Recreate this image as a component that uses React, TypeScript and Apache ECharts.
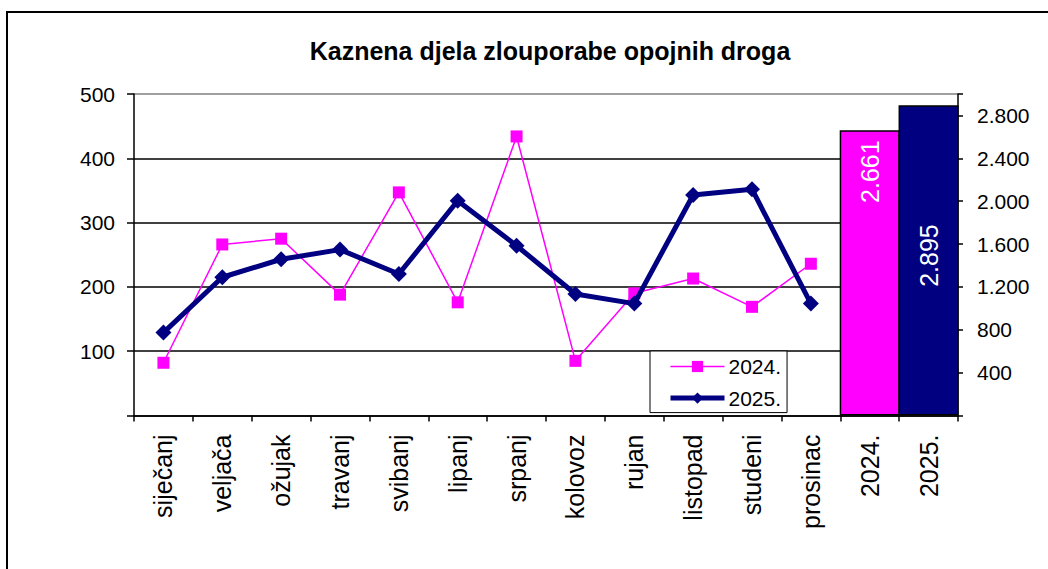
import React, { useEffect, useRef } from "react";
import * as echarts from "echarts";

const categories = ["siječanj", "veljača", "ožujak", "travanj", "svibanj", "lipanj", "srpanj", "kolovoz", "rujan", "listopad", "studeni", "prosinac", "2024.", "2025."];
const values2024 = [82, 266, 275, 188, 347, 176, 434, 85, 190, 213, 169, 236];
const values2025 = [129, 215, 243, 258, 220, 334, 264, 189, 174, 343, 352, 174];
const totals = [2661, 2895];
const leftTicks = { min: 0, max: 500, interval: 100 };
const rightTicks = { min: 0, max: 3000, interval: 400 };

const FONT = "'Liberation Sans', Arial, sans-serif";
const MAGENTA = "#FF00FF";
const NAVY = "#000080";

const fmt = (v: number) => String(v).replace(/\B(?=(\d{3})+(?!\d))/g, ".");

export default function App() {
  const ref = useRef<HTMLDivElement>(null);
  useEffect(() => {
    if (!ref.current) return;
    const chart = echarts.init(ref.current, null, { renderer: "svg" });
    const pad = (arr: number[]) => [...arr, null, null];
    const barData: any[] = categories.map(() => null);
    barData[12] = {
      value: totals[0],
      itemStyle: { color: MAGENTA },
      label: { distance: 17, offset: [7, 0] },
    };
    barData[13] = {
      value: totals[1],
      itemStyle: { color: NAVY },
      label: { distance: 122, offset: [3, 0] },
    };
    chart.setOption({
      animation: false,
      backgroundColor: "#ffffff",
      textStyle: { fontFamily: FONT },
      graphic: [
        {
          type: "rect",
          shape: { x: 7, y: 12, width: 1200, height: 700 },
          style: { fill: "none", stroke: "#000", lineWidth: 2 },
          silent: true,
        },
        {
          type: "text",
          x: 550,
          y: 51,
          style: {
            text: "Kaznena djela zlouporabe opojnih droga",
            font: `bold 25px ${FONT}`,
            fill: "#000",
            align: "center",
            verticalAlign: "middle",
          },
        },
      ],
      grid: { left: 134, right: 90, top: 94, bottom: 153.5, containLabel: false },
      legend: {
        data: [
          { name: "2024.", lineStyle: { width: 1.5, color: MAGENTA }, itemStyle: { color: MAGENTA } },
          { name: "2025.", lineStyle: { width: 5, color: NAVY }, itemStyle: { color: NAVY } },
        ],
        orient: "vertical",
        left: 650,
        top: 351,
        backgroundColor: "#fff",
        borderColor: "#000",
        borderWidth: 1,
        padding: [5, 6, 4, 18],
        itemWidth: 54,
        itemHeight: 14,
        itemGap: 10.6,
        textStyle: { fontSize: 21, fontFamily: FONT, color: "#000", lineHeight: 21, padding: [0, 0, 0, -1] },
      },
      xAxis: {
        type: "category",
        data: categories,
        boundaryGap: true,
        axisLine: { lineStyle: { color: "#000", width: 1.5 } },
        axisTick: { show: true, length: 6, lineStyle: { color: "#000", width: 1.5 } },
        axisLabel: { rotate: 90, fontSize: 25, color: "#000", margin: 19, fontFamily: FONT, interval: 0 },
        splitLine: { show: false },
      },
      yAxis: [
        {
          type: "value",
          min: leftTicks.min,
          max: leftTicks.max,
          interval: leftTicks.interval,
          axisLine: { show: true, lineStyle: { color: "#000", width: 1.5 } },
          axisTick: { show: true, length: 7, lineStyle: { color: "#000", width: 1.5 } },
          axisLabel: {
            fontSize: 21,
            color: "#000",
            margin: 19,
            fontFamily: FONT,
            formatter: (v: number) => (v === 0 ? "" : String(v)),
          },
          splitLine: {
            show: true,
            lineStyle: { color: ["#000", "#000", "#000", "#000", "#000", "#808080"], width: 1.5 },
          },
        },
        {
          type: "value",
          position: "right",
          min: rightTicks.min,
          max: rightTicks.max,
          interval: rightTicks.interval,
          axisLine: { show: true, lineStyle: { color: "#000", width: 1.5 } },
          axisTick: { show: true, length: 5, lineStyle: { color: "#000", width: 1.5 } },
          axisLabel: {
            fontSize: 21,
            color: "#000",
            margin: 19,
            fontFamily: FONT,
            formatter: (v: number) => (v === 0 || v === 3000 ? "" : fmt(v)),
          },
          splitLine: { show: false },
        },
      ],
      series: [
        {
          name: "ukupno",
          type: "bar",
          yAxisIndex: 1,
          barWidth: "102%",
          barCategoryGap: "0%",
          data: barData,
          z: 1,
          itemStyle: { borderColor: "#000", borderWidth: 1.5 },
          label: {
            show: true,
            position: "insideTop",
            rotate: 90,
            align: "right",
            verticalAlign: "middle",
            color: "#fff",
            fontSize: 25,
            fontFamily: FONT,
            formatter: (p: any) => fmt(p.value),
          },
        },
        {
          name: "2024.",
          type: "line",
          yAxisIndex: 0,
          data: pad(values2024),
          symbol: "rect",
          symbolSize: 12,
          lineStyle: { color: MAGENTA, width: 1.5 },
          itemStyle: { color: MAGENTA },
          z: 3,
        },
        {
          name: "2025.",
          type: "line",
          yAxisIndex: 0,
          data: pad(values2025),
          symbol: "diamond",
          symbolSize: 16,
          lineStyle: { color: NAVY, width: 5 },
          itemStyle: { color: NAVY },
          z: 4,
        },
      ],
    });
    return () => chart.dispose();
  }, []);
  return (
    <div
      ref={ref}
      style={{ position: "absolute", left: 0, top: 0, width: 1048, height: 569, background: "#fff" }}
    />
  );
}
